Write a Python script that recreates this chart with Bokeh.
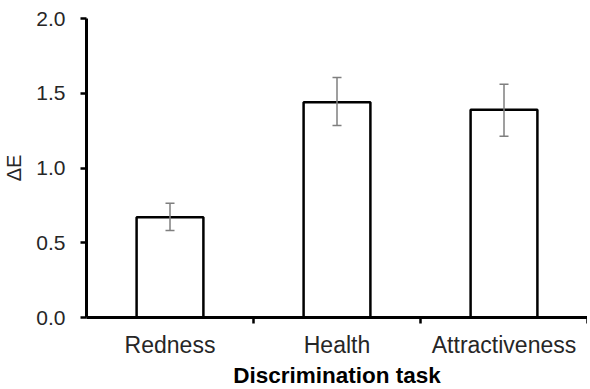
from bokeh.plotting import figure
from bokeh.models import (Range1d, FixedTicker, ColumnDataSource, Whisker, TeeHead)
from bokeh.embed import file_html
from bokeh.resources import INLINE

# Data
categories = ["Redness", "Health", "Attractiveness"]
delta_e = [0.67, 1.44, 1.39]
err_upper = [0.765, 1.605, 1.56]
err_lower = [0.582, 1.285, 1.213]
y_ticks = [0.0, 0.5, 1.0, 1.5, 2.0]

xs = [i + 0.5 for i in range(len(categories))]
src = ColumnDataSource(dict(x=xs, top=delta_e, upper=err_upper, lower=err_lower))

p = figure(frame_width=501, frame_height=299, output_backend="svg", toolbar_location=None,
           x_range=Range1d(0, len(categories)), y_range=Range1d(0, 2.0),
           min_border_left=81, min_border_right=0, min_border_top=18, min_border_bottom=60)
p.outline_line_color = None
p.xgrid.visible = False
p.ygrid.visible = False
p.background_fill_color = "white"
p.border_fill_color = "white"

p.vbar(x="x", top="top", width=0.4, bottom=0, source=src,
       fill_color="white", line_color="black", line_width=2.5)

w = Whisker(base="x", upper="upper", lower="lower", source=src, level="overlay",
            line_color="#7f7f7f", line_width=1.5,
            upper_head=TeeHead(size=9, line_color="#7f7f7f", line_width=1.5),
            lower_head=TeeHead(size=9, line_color="#7f7f7f", line_width=1.5))
p.add_layout(w)

font = "Liberation Sans"

# x axis
xa = p.xaxis[0]
xa.ticker = FixedTicker(ticks=xs, minor_ticks=list(range(1, len(categories) + 1)))
xa.major_label_overrides = {x: c for x, c in zip(xs, categories)}
xa.major_tick_out = 0
xa.major_tick_in = 0
xa.minor_tick_out = 6
xa.minor_tick_in = 0
xa.minor_tick_line_width = 2.5
xa.minor_tick_line_color = "black"
xa.axis_line_width = 3
xa.axis_line_color = "black"
xa.major_label_text_font = font
xa.major_label_text_font_size = "23px"
xa.major_label_text_color = "#262626"
xa.major_label_standoff = 8
xa.axis_label = "Discrimination task"
xa.axis_label_text_font = font
xa.axis_label_text_font_size = "22.5px"
xa.axis_label_text_font_style = "bold"
xa.axis_label_text_color = "black"
xa.axis_label_standoff = 2

# y axis
ya = p.yaxis[0]
ya.ticker = FixedTicker(ticks=y_ticks)
ya.major_label_overrides = {t: f"{t:.1f}" for t in y_ticks}
ya.major_tick_out = 6
ya.major_tick_in = 0
ya.major_tick_line_width = 2.5
ya.minor_tick_out = 0
ya.minor_tick_in = 0
ya.axis_line_width = 3
ya.axis_line_color = "black"
ya.major_label_text_font = font
ya.major_label_text_font_size = "21px"
ya.major_label_text_color = "#262626"
ya.major_label_standoff = 15
ya.axis_label = "ΔE"
ya.axis_label_text_font = font
ya.axis_label_text_font_size = "20px"
ya.axis_label_text_font_style = "normal"
ya.axis_label_text_color = "#262626"
ya.axis_label_standoff = 8

open("out.html", "w").write(file_html(p, INLINE))
